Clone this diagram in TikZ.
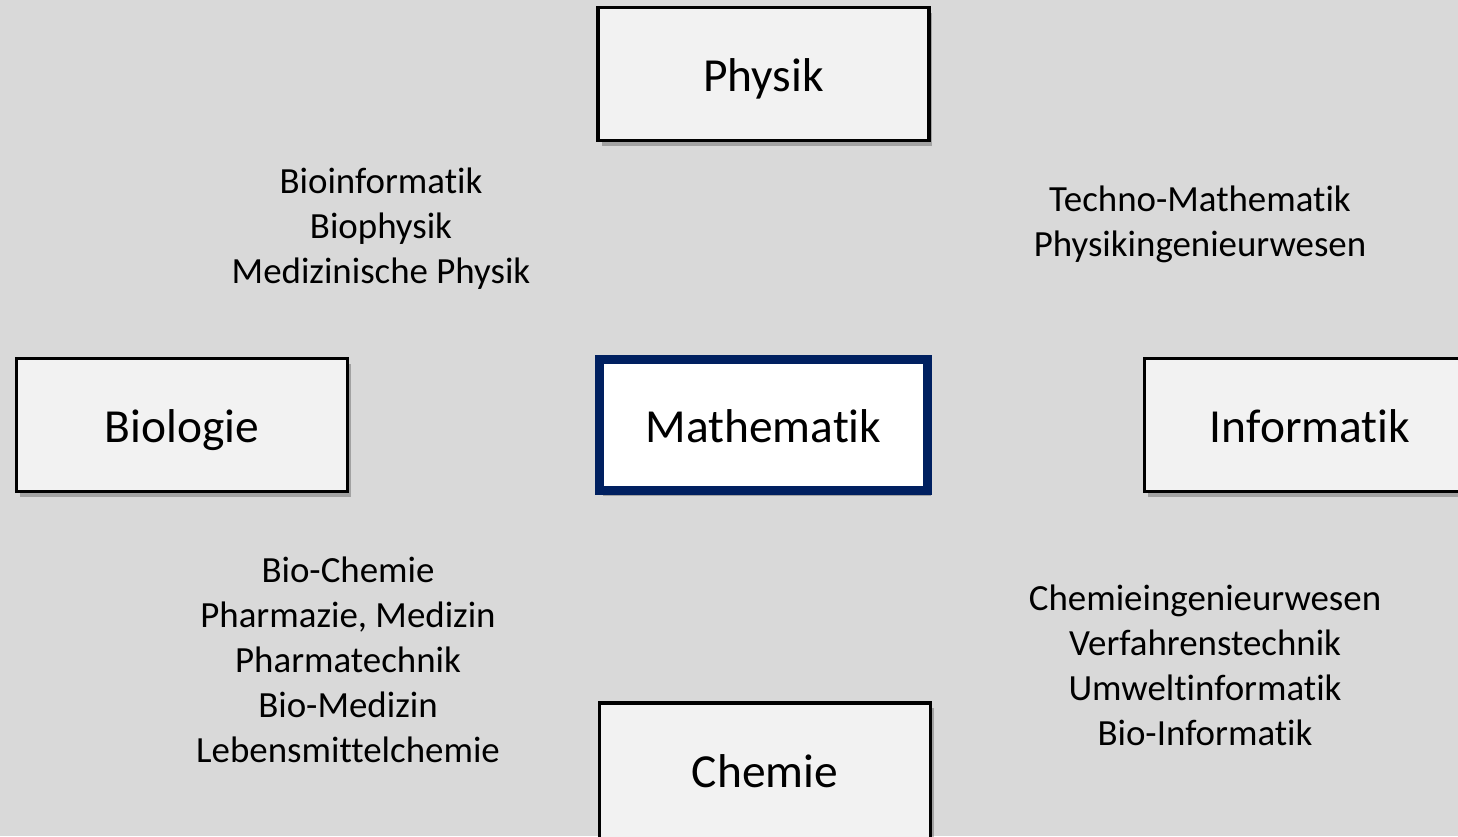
\documentclass[tikz,border=0pt]{standalone}
\usepackage{fontspec}
\setmainfont{Carlito}[Ligatures={NoCommon,NoContextual}]
\usetikzlibrary{shadows}
\definecolor{bggray}{HTML}{D9D9D9}
\definecolor{boxgray}{HTML}{F2F2F2}
\definecolor{navy}{HTML}{002060}
\begin{document}
\begin{tikzpicture}[x=0.02cm, y=-0.02cm,
	fach/.style={draw=black, line width=2.2pt, fill=boxgray, minimum width=6.62cm, minimum height=2.66cm,
		font=\fontsize{27}{32}\selectfont, inner sep=0pt, text height=19.5pt, text depth=0pt,
		drop shadow={shadow xshift=2pt, shadow yshift=-3pt, opacity=0.25, fill=black}},
	haupt/.style={fach, draw=navy, line width=4.6pt, fill=white, minimum width=6.56cm, minimum height=2.62cm},
	liste/.style={align=center, font=\fontsize{21}{25.6}\selectfont, inner sep=0pt}]
	
	\fill[bggray] (0, 0) rectangle (1458, 836);
	\useasboundingbox (0, 0) rectangle (1458, 836);
	\clip (0, 0) rectangle (1458, 836);
	
	\node[haupt] (mathe) at (763.5, 425) {Mathematik};
	\node[fach] (physik) at (763.5, 74) {Physik};
	\node[fach] (bio) at (182, 425) {Biologie};
	\node[fach] (info) at (1310, 425) {Informatik};
	% unten abgeschnitten
	\node[fach, anchor=north, minimum height=3.1cm, text height=7.6pt] (chemie) at (765, 701) {Chemie};
	
	\node[liste] (biophys) at (381, 229) {Bioinformatik\\Biophysik\\Medizinische Physik};
	\node[liste] (physinfo) at (1200, 224.5) {Techno-Mathematik\\Physikingenieurwesen};
	\node[liste] (biochem) at (348, 660) {Bio-Chemie\\Pharmazie, Medizin\\Pharmatechnik\\Bio-Medizin\\Lebensmittelchemie};
	\node[liste] (cheminfo) at (1205, 665) {Chemieingenieurwesen\\Verfahrenstechnik\\Umweltinformatik\\Bio-Informatik};
\end{tikzpicture}
\end{document}
